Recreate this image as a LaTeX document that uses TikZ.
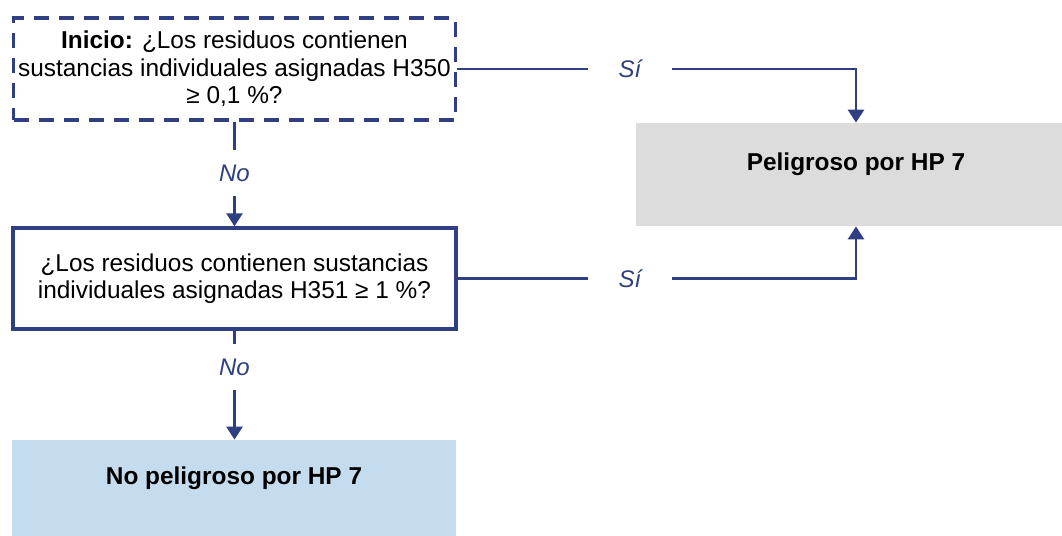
\documentclass[tikz,border=0pt]{standalone}
\usepackage{fontspec}
\setmainfont{Liberation Sans}
\usetikzlibrary{arrows.meta}
\definecolor{navy}{HTML}{2F3F82}
\definecolor{hpgrey}{HTML}{DCDCDC}
\definecolor{hpblue}{HTML}{C5DCEF}
\tikzset{
  question/.style={draw=navy,line width=1.7pt,inner sep=0pt,align=center,font=\fontsize{12.2}{13.8}\selectfont},
  result/.style={inner sep=0pt,font=\fontsize{12.2}{14}\selectfont\bfseries,text depth=12.5pt},
  answer/.style={text=navy,font=\fontsize{12}{14}\selectfont\itshape,inner xsep=15pt,inner ysep=7pt},
  conn/.style={draw=navy,line width=1.4pt},
  arr/.style={conn,-{Triangle[width=8pt,length=6.5pt]}}
}

\begin{document}
\begin{tikzpicture}[x=0.5pt,y=-0.5pt]
  \useasboundingbox (0,0) rectangle (1062,536);
  \clip (0,0) rectangle (1062,536);
  \node[question,dash pattern=on 7.5pt off 5pt,minimum width=220.75pt,minimum height=51pt] (q1) at (234.5,69) {\textbf{Inicio:} ¿Los residuos contienen\\sustancias individuales asignadas H350\\≥ 0,1 \%?};
  \node[question,minimum width=221.5pt,minimum height=50.5pt] (q2) at (234.5,278.5) {¿Los residuos contienen sustancias\\individuales asignadas H351 ≥ 1 \%?};
  \node[result,fill=hpgrey,minimum width=220pt,minimum height=51.5pt] (hp7) at (856,174.5) {Peligroso por HP 7};
  \node[result,fill=hpblue,minimum width=222pt,minimum height=48pt] (nohp7) at (234,488) {No peligroso por HP 7};
  \node[answer] (si1) at (630,69) {Sí};
  \node[answer] (si2) at (630,278.5) {Sí};
  \node[answer] (no1) at (234.5,173) {No};
  \node[answer] (no2) at (234.5,367) {No};
  \draw[conn] (q1.east) -- (si1.west);
  \draw[arr] (si1.east) -| (hp7.north);
  \draw[conn] (q2.east) -- (si2.west);
  \draw[arr] (si2.east) -| (hp7.south);
  \draw[conn] (q1.south) -- (no1.north);
  \draw[arr] (no1.south) -- (q2.north);
  \draw[conn] (q2.south) -- (no2.north);
  \draw[arr] (no2.south) -- (no2.south |- nohp7.north);
\end{tikzpicture}
\end{document}
